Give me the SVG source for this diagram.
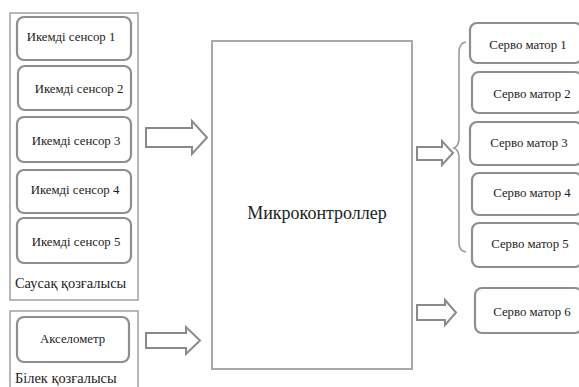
<svg xmlns="http://www.w3.org/2000/svg" width="579" height="387" viewBox="0 0 579 387">
  <style>
    .group { fill: #ffffff; stroke: #a0a0a0; stroke-width: 1.5; }
    .node { fill: #ffffff; stroke: #8e8e8e; stroke-width: 2.2; }
    .mcu { fill: #ffffff; stroke: #a8a8a8; stroke-width: 2; }
    .arrow { fill: #ffffff; stroke: #8a8a8a; stroke-width: 2; stroke-linejoin: miter; }
    .brace { fill: none; stroke: #9a9a9a; stroke-width: 1.6; }
    text { font-family: "Liberation Serif", "DejaVu Serif", "Times New Roman", serif; fill: #222222; }
    .lbl { font-size: 12.8px; text-anchor: middle; dominant-baseline: central; }
    .cap { font-size: 14.4px; }
    .big { font-size: 18px; text-anchor: middle; dominant-baseline: central; }
  </style>

  <!-- finger motion group -->
  <g id="finger-group">
    <rect class="group" x="10" y="13" width="128" height="287"/>
    <text class="cap" x="15" y="288">Саусақ қозғалысы</text>
  </g>
  <g id="sensor1">
    <rect class="node" x="17" y="17" width="114" height="43" rx="7"/>
    <text class="lbl" x="71" y="37">Икемді сенсор 1</text>
  </g>
  <g id="sensor2">
    <rect class="node" x="18" y="66" width="113" height="44" rx="7"/>
    <text class="lbl" x="79" y="89">Икемді сенсор 2</text>
  </g>
  <g id="sensor3">
    <rect class="node" x="17" y="117" width="114" height="45" rx="7"/>
    <text class="lbl" x="76" y="141">Икемді сенсор 3</text>
  </g>
  <g id="sensor4">
    <rect class="node" x="17" y="170" width="114" height="43" rx="7"/>
    <text class="lbl" x="75" y="190">Икемді сенсор 4</text>
  </g>
  <g id="sensor5">
    <rect class="node" x="17" y="218" width="114" height="45" rx="7"/>
    <text class="lbl" x="76" y="242">Икемді сенсор 5</text>
  </g>

  <!-- forearm motion group -->
  <g id="forearm-group">
    <rect class="group" x="10" y="311" width="128" height="80"/>
    <text class="cap" x="15" y="383">Білек қозғалысы</text>
  </g>
  <g id="accelerometer">
    <rect class="node" x="17" y="317" width="112" height="45" rx="7"/>
    <text class="lbl" x="72.5" y="339">Акселометр</text>
  </g>

  <!-- controller -->
  <g id="microcontroller">
    <rect class="mcu" x="212" y="41" width="200" height="328"/>
    <text class="big" x="317" y="213">Микроконтроллер</text>
  </g>

  <!-- servo outputs -->
  <g id="servo1">
    <rect class="node" x="470" y="23" width="112" height="40" rx="7"/>
    <text class="lbl" x="528" y="45">Серво матор 1</text>
  </g>
  <g id="servo2">
    <rect class="node" x="472" y="72" width="110" height="41" rx="7"/>
    <text class="lbl" x="532" y="94">Серво матор 2</text>
  </g>
  <g id="servo3">
    <rect class="node" x="470" y="122" width="112" height="43" rx="7"/>
    <text class="lbl" x="529" y="143">Серво матор 3</text>
  </g>
  <g id="servo4">
    <rect class="node" x="472" y="173" width="110" height="42" rx="7"/>
    <text class="lbl" x="532" y="193">Серво матор 4</text>
  </g>
  <g id="servo5">
    <rect class="node" x="472" y="223" width="110" height="44" rx="7"/>
    <text class="lbl" x="530" y="244">Серво матор 5</text>
  </g>
  <g id="servo6">
    <rect class="node" x="475" y="288" width="107" height="45" rx="7"/>
    <text class="lbl" x="532" y="312">Серво матор 6</text>
  </g>

  <!-- connectors: block arrows and brace -->
  <g id="connectors">
    <path class="arrow" d="M146,128 H192 V121 L207,137.5 L192,154 V147 H146 Z"/>
    <path class="arrow" d="M146,333 H186 V327 L200,340.5 L186,354 V348 H146 Z"/>
    <path class="arrow" d="M417,147 H442 V141 L453,153 L442,165 V160 H417 Z"/>
    <path class="arrow" d="M417,305 H445 V300 L456,312.5 L445,325 V320 H417 Z"/>
    <path class="brace" d="M466,42 Q459,43 459,52 V138 Q459,146 454,148 Q459,150 459,158 V243 Q459,251 466,252"/>
  </g>
</svg>
